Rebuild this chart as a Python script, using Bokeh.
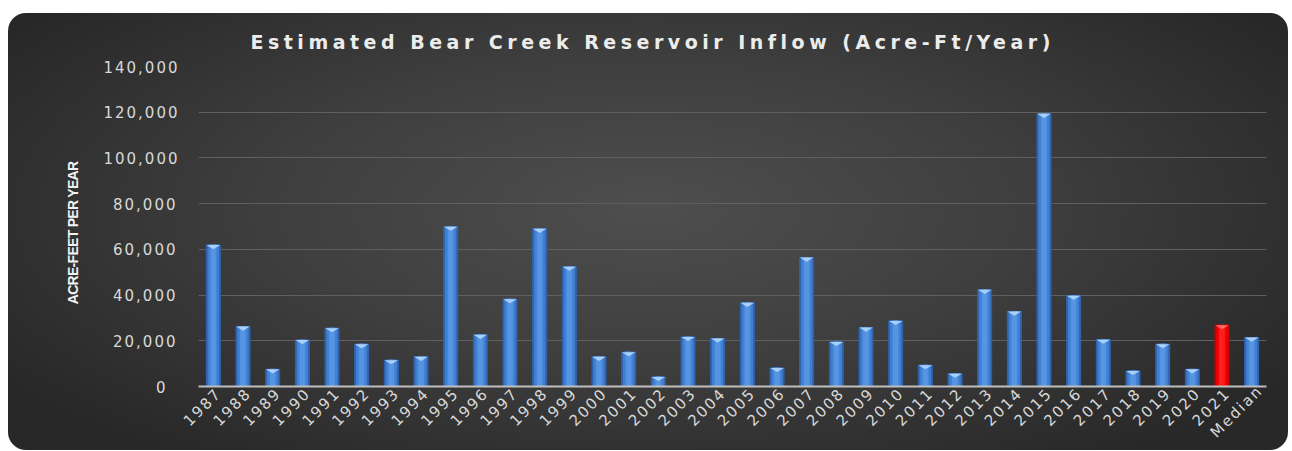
import numpy as np
from bokeh.plotting import figure
from bokeh.document import Document
from bokeh.models import FixedTicker, NumeralTickFormatter, ColumnDataSource, CustomJS
from bokeh.embed import file_html
from bokeh.resources import INLINE

labels = ["1987", "1988", "1989", "1990", "1991", "1992", "1993", "1994", "1995",
          "1996", "1997", "1998", "1999", "2000", "2001", "2002", "2003", "2004",
          "2005", "2006", "2007", "2008", "2009", "2010", "2011", "2012", "2013",
          "2014", "2015", "2016", "2017", "2018", "2019", "2020", "2021", "Median"]
inflow = [61900, 26200, 7500, 20300, 25500, 18500, 11500, 13000, 69900,
          22600, 38200, 69000, 52400, 13000, 15000, 4200, 21700, 21000,
          36600, 8100, 56400, 19500, 25800, 28700, 9300, 5600, 42300,
          32800, 119300, 39700, 20500, 6800, 18500, 7500, 26800, 21400]
highlight = "2021"
y_ticks = [0, 20000, 40000, 60000, 80000, 100000, 120000, 140000]

n = len(labels)
xs = list(range(n))
is_hi = [lab == highlight for lab in labels]
outer_c = ["#c80000" if h else "#2f65b3" for h in is_hi]
mid_c = ["#f00000" if h else "#4380d2" for h in is_hi]
inner_c = ["#ff1e1e" if h else "#5595e3" for h in is_hi]
tri_c = ["#ff6a6a" if h else "#a9d0f8" for h in is_hi]

src = ColumnDataSource(dict(x=xs, top=inflow, outer=outer_c, mid=mid_c, inner=inner_c))

p = figure(width=1280, height=437, output_backend="svg", toolbar_location=None,
           x_range=(-0.5, n - 0.5), y_range=(0, 140000),
           min_border_left=190, min_border_right=22, min_border_top=53,
           min_border_bottom=64,
           title="Estimated Bear Creek Reservoir Inflow (Acre-Ft/Year)",
           styles={"background": "radial-gradient(ellipse 60% 70% at 50% 45%, #4e4e4e 0%, #3e3e3e 50%, #282828 100%)",
                   "border-radius": "18px", "margin-top": "13px", "margin-left": "8px"})

p.border_fill_color = None
p.background_fill_color = None
p.outline_line_color = None

p.title.align = "left"
p.title.offset = 52
p.title.text_font = "DejaVu Sans"
p.title.text_font_style = "bold"
p.title.text_font_size = "19px"
p.title.text_color = "#ececec"
p.title.standoff = 28

p.vbar(x="x", top="top", width=0.47, color="outer", source=src)
p.vbar(x="x", top="top", width=0.34, color="mid", source=src)
p.vbar(x="x", top="top", width=0.16, color="inner", source=src)

tri_h = 1800
tri_xs = [[x - 0.23, x + 0.23, x] for x in xs]
tri_ys = [[v, v, v - tri_h] for v in inflow]
p.patches(tri_xs, tri_ys, fill_color=tri_c, line_color=None)

# axes
p.xaxis.ticker = FixedTicker(ticks=xs)
p.xaxis.major_label_overrides = {i: lab for i, lab in enumerate(labels)}
p.xaxis.major_label_orientation = np.pi / 4
p.xaxis.major_label_text_font = "DejaVu Sans"
p.xaxis.major_label_text_font_size = "15px"
p.xaxis.major_label_text_line_height = 1.0
p.xaxis.major_label_text_color = "#d9d9d9"
p.xaxis.major_label_standoff = 4
p.xaxis.axis_line_color = "#bfbfbf"
p.xaxis.axis_line_width = 2
p.xaxis.major_tick_line_color = None
p.xaxis.minor_tick_line_color = None

p.yaxis.ticker = FixedTicker(ticks=y_ticks)
p.yaxis.formatter = NumeralTickFormatter(format="0,0")
p.yaxis.major_label_text_font = "DejaVu Sans"
p.yaxis.major_label_text_font_size = "15px"
p.yaxis.major_label_text_color = "#d9d9d9"
p.yaxis.major_label_standoff = 27
p.yaxis.axis_line_color = None
p.yaxis.major_tick_line_color = None
p.yaxis.minor_tick_line_color = None
p.yaxis.axis_label = "ACRE-FEET PER YEAR"
p.yaxis.axis_label_text_font = "Liberation Sans"
p.yaxis.axis_label_text_font_style = "bold"
p.yaxis.axis_label_text_font_size = "14px"
p.yaxis.axis_label_text_color = "#f2f2f2"
p.yaxis.axis_label_standoff = 19

p.xgrid.grid_line_color = None
p.ygrid.grid_line_color = "#606060"
p.ygrid.grid_line_width = 1

css = ('text[font-size="19px"]{letter-spacing:4.5px;}'
       'text[font-size="15px"]{letter-spacing:2px;}'
       'text[font-size="14px"]{letter-spacing:-0.7px;}')
cb = CustomJS(args=dict(css=css), code="""
function add(root) {
  if (root.__ls_done) return;
  root.__ls_done = true;
  const st = document.createElement('style');
  st.textContent = css;
  root.appendChild(st);
}
function walk(node) {
  const els = node.querySelectorAll('*');
  for (const el of els) {
    if (el.shadowRoot) { add(el.shadowRoot); walk(el.shadowRoot); }
  }
}
add(document.head);
walk(document);
for (const t of [20, 100, 300, 800]) setTimeout(() => walk(document), t);
""")
p.js_on_change("inner_width", cb)
p.js_on_change("inner_height", cb)

doc = Document()
doc.add_root(p)
doc.js_on_event("document_ready", cb)

open("out.html", "w").write(file_html(p, INLINE))
